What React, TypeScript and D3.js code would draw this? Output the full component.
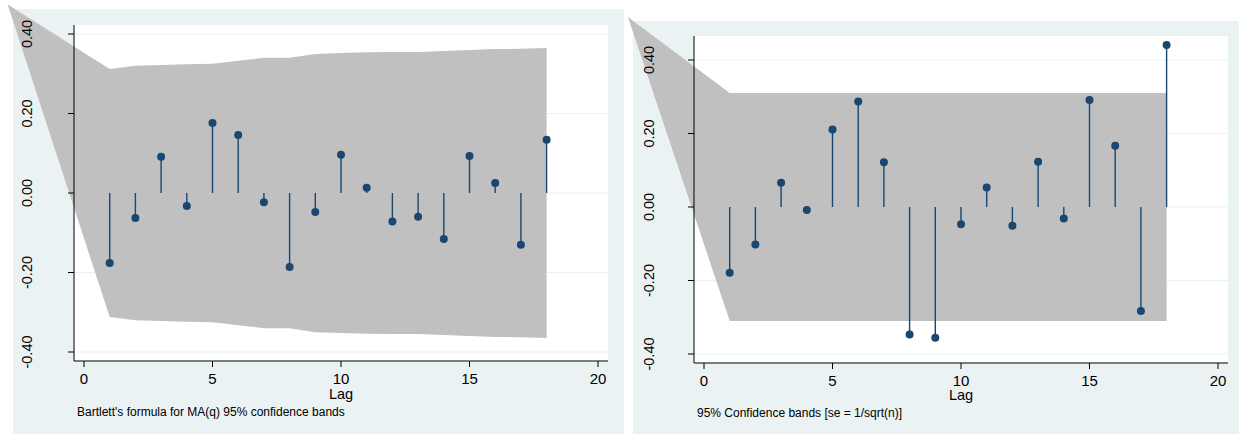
import React from "react";
import * as d3 from "d3";

// lags shown on both correlograms
const lags = [1, 2, 3, 4, 5, 6, 7, 8, 9, 10, 11, 12, 13, 14, 15, 16, 17, 18];
const xTicks = [0, 5, 10, 15, 20];
const yTicks = [-0.4, -0.2, 0, 0.2, 0.4];

// left: autocorrelations, Bartlett bands
const acLeft = [-0.176, -0.063, 0.091, -0.033, 0.176, 0.146, -0.023, -0.186, -0.048,
  0.096, 0.013, -0.072, -0.06, -0.116, 0.093, 0.025, -0.13, 0.134];
const bandLeftUpper = [0.312, 0.32, 0.322, 0.324, 0.325, 0.333, 0.34, 0.34, 0.35,
  0.352, 0.354, 0.355, 0.355, 0.357, 0.36, 0.362, 0.363, 0.365];
const bandLeftLower = [-0.312, -0.32, -0.322, -0.324, -0.325, -0.333, -0.34, -0.34, -0.35,
  -0.352, -0.354, -0.355, -0.355, -0.357, -0.36, -0.362, -0.363, -0.365];
const bandLeftStart = { lag: -2.97, value: 0.474 };

// right: partial autocorrelations, se = 1/sqrt(n)
const acRight = [-0.179, -0.102, 0.066, -0.008, 0.211, 0.287, 0.122, -0.347, -0.356,
  -0.047, 0.053, -0.051, 0.123, -0.031, 0.291, 0.167, -0.283, 0.441];
const bandRightUpper = [0.31, 0.31, 0.31, 0.31, 0.31, 0.31, 0.31, 0.31, 0.31,
  0.31, 0.31, 0.31, 0.31, 0.31, 0.31, 0.31, 0.31, 0.31];
const bandRightLower = [-0.31, -0.31, -0.31, -0.31, -0.31, -0.31, -0.31, -0.31, -0.31,
  -0.31, -0.31, -0.31, -0.31, -0.31, -0.31, -0.31, -0.31, -0.31];
const bandRightStart = { lag: -2.96, value: 0.517 };

const notes = [
  "Bartlett's formula for MA(q) 95% confidence bands",
  "95% Confidence bands [se = 1/sqrt(n)]",
];

const W = 1239;
const H = 434;
const NAVY = "#1a476f";
const REGION = "#eaf2f3";
const BAND = "#c0c0c0";
const FONT = "'Liberation Sans', Arial, sans-serif";

interface Layout {
  bg: { x: number; y: number; w: number; h: number };
  plot: { left: number; right: number; top: number; bottom: number };
  xPix: [number, number];
  yPix: [number, number];
  yLabelX: number;
  xLabelBase: number;
  lagBase: number;
  noteX: number;
  noteBase: number;
}

const layouts: Layout[] = [
  {
    bg: { x: 13, y: 9, w: 611, h: 425 },
    plot: { left: 74, right: 608, top: 25, bottom: 361 },
    xPix: [84, 598],
    yPix: [352, 34],
    yLabelX: 26.5,
    xLabelBase: 384,
    lagBase: 399,
    noteX: 77,
    noteBase: 416,
  },
  {
    bg: { x: 633, y: 21, w: 606, h: 413 },
    plot: { left: 694, right: 1228, top: 36, bottom: 363 },
    xPix: [704, 1218],
    yPix: [354, 60],
    yLabelX: 648.5,
    xLabelBase: 386,
    lagBase: 400,
    noteX: 697,
    noteBase: 417,
  },
];

interface BandPt { lag: number; lo: number; hi: number }

const Panel: React.FC<{
  lay: Layout;
  ac: number[];
  upper: number[];
  lower: number[];
  start: { lag: number; value: number };
  note: string;
}> = ({ lay, ac, upper, lower, start, note }) => {
  const x = d3.scaleLinear().domain([0, 20]).range(lay.xPix);
  const y = d3.scaleLinear().domain([-0.4, 0.4]).range(lay.yPix);
  const p = lay.plot;

  const band: BandPt[] = [{ lag: start.lag, lo: start.value, hi: start.value }].concat(
    lags.map((l, i) => ({ lag: l, lo: lower[i], hi: upper[i] }))
  );
  const area = d3
    .area<BandPt>()
    .x((d) => x(d.lag))
    .y0((d) => y(d.lo))
    .y1((d) => y(d.hi));

  return (
    <g>
      <rect x={lay.bg.x} y={lay.bg.y} width={lay.bg.w} height={lay.bg.h} fill={REGION} />
      <rect x={p.left} y={p.top} width={p.right - p.left} height={p.bottom - p.top} fill="#ffffff" />
      {yTicks.map((t) => (
        <line key={t} x1={p.left} x2={p.right} y1={y(t)} y2={y(t)} stroke={REGION} strokeWidth={1.2} />
      ))}
      <path d={area(band) || ""} fill={BAND} />
      {/* axes */}
      <line x1={p.left} x2={p.left} y1={p.top} y2={p.bottom} stroke="#000" strokeWidth={1} />
      <line x1={p.left} x2={p.right} y1={p.bottom} y2={p.bottom} stroke="#000" strokeWidth={1} />
      {yTicks.map((t) => (
        <g key={"y" + t}>
          <line x1={p.left - 6} x2={p.left} y1={y(t)} y2={y(t)} stroke="#000" />
          <text
            transform={`translate(${lay.yLabelX},${y(t)}) rotate(-90)`}
            textAnchor="middle"
            dominantBaseline="central"
            fontFamily={FONT}
            fontSize={14.5}
            fill="#000"
          >
            {t.toFixed(2)}
          </text>
        </g>
      ))}
      {xTicks.map((t) => (
        <g key={"x" + t}>
          <line x1={x(t)} x2={x(t)} y1={p.bottom} y2={p.bottom + 6} stroke="#000" />
          <text x={x(t)} y={lay.xLabelBase} textAnchor="middle" fontFamily={FONT} fontSize={15} fill="#000">
            {t}
          </text>
        </g>
      ))}
      <text x={(p.left + p.right) / 2} y={lay.lagBase} textAnchor="middle" fontFamily={FONT} fontSize={14.5} fill="#000">
        Lag
      </text>
      <text x={lay.noteX} y={lay.noteBase} fontFamily={FONT} fontSize={12} fill="#000">
        {note}
      </text>
      {/* stems */}
      {lags.map((l, i) => (
        <g key={"s" + l}>
          <line x1={x(l)} x2={x(l)} y1={y(0)} y2={y(ac[i])} stroke={NAVY} strokeWidth={1.4} />
          <circle cx={x(l)} cy={y(ac[i])} r={4} fill={NAVY} />
        </g>
      ))}
    </g>
  );
};

export default function App() {
  return (
    <div style={{ position: "absolute", left: 0, top: 0 }}>
      <svg width={W} height={H} style={{ display: "block", background: "#ffffff" }}>
        <Panel lay={layouts[0]} ac={acLeft} upper={bandLeftUpper} lower={bandLeftLower} start={bandLeftStart} note={notes[0]} />
        <Panel lay={layouts[1]} ac={acRight} upper={bandRightUpper} lower={bandRightLower} start={bandRightStart} note={notes[1]} />
      </svg>
    </div>
  );
}
